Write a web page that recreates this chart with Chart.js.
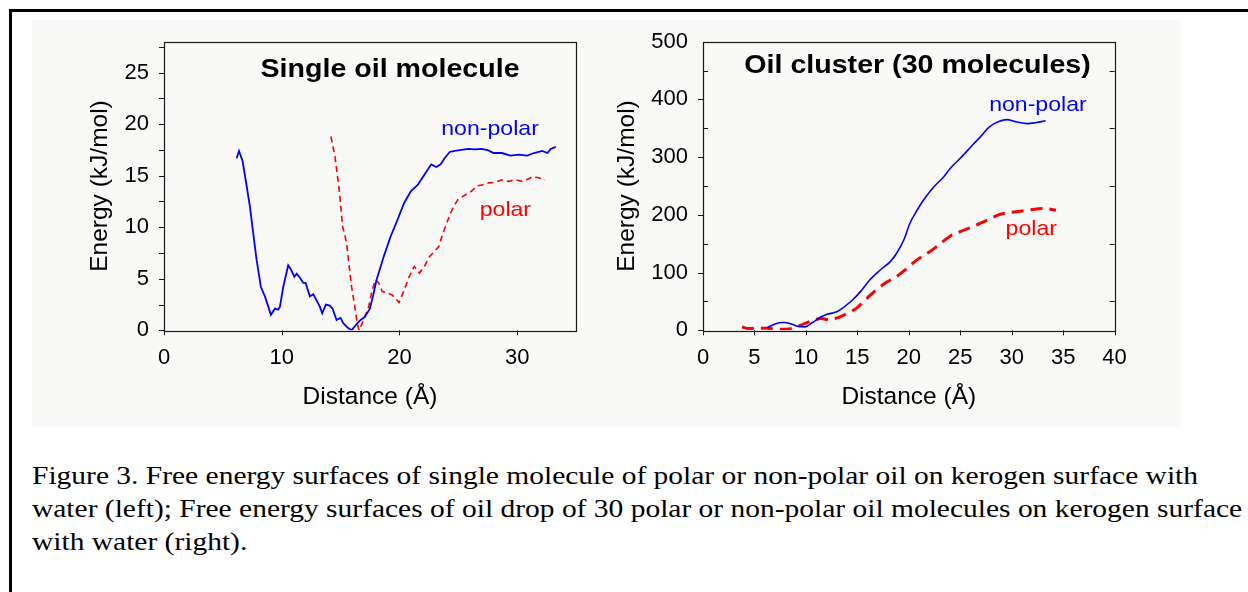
<!DOCTYPE html>
<html><head><meta charset="utf-8">
<script src="https://cdn.jsdelivr.net/npm/chart.js@4.4.0/dist/chart.umd.min.js"></script>
<style>
html,body{margin:0;padding:0;background:#fff;width:1248px;height:592px;overflow:hidden;position:relative;font-family:"Liberation Sans",Arial,sans-serif}
#frame{position:absolute;left:9px;top:9px;width:1400px;height:800px;border-left:3px solid #000;border-top:3px solid #000;}
#bg{position:absolute;left:32px;top:20px;width:1149px;height:407px;background:#f9f9f8;}
#c1{position:absolute;left:0;top:0}
#c2{position:absolute;left:600px;top:0}
#cap{position:absolute;left:32px;top:459px;font-family:"Liberation Serif","Times New Roman",serif;font-size:26px;line-height:33px;color:#000;white-space:nowrap;transform-origin:0 0}
#cap span{display:block}
</style></head><body>
<div id="frame"></div><div id="bg"></div>
<canvas id="c1" width="620" height="440"></canvas>
<canvas id="c2" width="648" height="440"></canvas>
<div id="cap"><span id="cap1" style="display:inline-block">Figure 3. Free energy surfaces of single molecule of polar or non-polar oil on kerogen surface with</span><span>water (left); Free energy surfaces of oil drop of 30 polar or non-polar oil molecules on kerogen surface</span><span>with water (right).</span></div>
<script>
// ---- Left chart: single oil molecule ----
const leftNonPolarX = [6.17,6.37,6.68,7.02,7.30,7.58,7.87,8.23,8.57,8.86,9.08,9.42,9.70,9.85,10.13,10.55,10.78,11.07,11.27,11.55,11.83,12.03,12.39,12.68,12.96,13.24,13.44,13.75,14.09,14.32,14.66,15.00,15.22,15.56,15.93,16.36,16.70,17.06,17.49,17.77,18.06,18.68,19.25,19.83,20.40,20.98,21.55,22.12,22.70,23.13,23.50,23.84,24.27,24.70,25.27,25.85,26.41,26.99,27.56,27.99,28.70,29.42,30.14,30.85,31.43,32.14,32.57,32.85,33.28];
const leftNonPolarY = [16.7,17.4,16.4,14.0,12.0,9.4,6.8,4.2,3.3,2.3,1.5,2.1,2.0,2.3,4.2,6.3,5.9,5.2,5.5,5.1,4.6,4.6,3.3,3.5,2.9,2.3,1.65,2.5,2.4,2.1,1.0,1.2,0.7,0.3,0.0,0.6,1.0,1.3,2.1,3.4,4.9,7.2,9.1,10.7,12.35,13.5,14.1,15.1,16.1,15.85,16.1,16.7,17.3,17.4,17.5,17.6,17.55,17.6,17.45,17.2,17.2,16.95,17.05,16.95,17.2,17.4,17.2,17.6,17.8];
const leftPolarX = [14.18,14.52,14.88,15.17,15.51,15.70,15.93,16.21,16.41,16.56,16.96,17.39,17.68,17.97,18.25,18.54,18.97,19.40,19.97,20.40,20.83,21.26,21.69,22.12,22.55,22.98,23.32,23.69,24.12,24.55,24.98,25.55,26.13,26.55,26.99,27.56,28.13,28.70,29.28,29.85,30.42,31.00,31.28,31.85,32.37];
const leftPolarY = [18.8,16.9,13.65,10.1,8.5,6.5,4.25,2.3,0.7,0.0,1.0,2.3,3.9,4.9,4.6,3.75,3.65,3.4,2.7,3.9,5.2,6.2,5.55,6.2,7.15,7.65,8.1,9.4,10.7,11.9,12.7,13.1,13.5,14.0,14.1,14.3,14.35,14.6,14.45,14.6,14.45,14.7,14.9,14.8,14.55];
const leftXTicks = [0,10,20,30];
const leftYTicks = [0,5,10,15,20,25];
const leftYMarks = [0,2.5,5,7.5,10,12.5,15,17.5,20,22.5,25,27.5];

// ---- Right chart: oil cluster (30 molecules) ----
const rightNonPolarX = [6.2,7.0,7.8,8.6,9.3,9.9,10.6,11.4,12.0,13.0,13.6,14.5,15.3,16.2,17.2,18.2,18.8,19.5,20.1,20.8,21.4,22.4,23.4,24.0,25.0,26.2,27.0,27.8,28.8,29.5,30.5,31.5,32.4,33.3];
const rightNonPolarY = [4,11,13.5,11,6.5,6,13,22.5,27.5,32,39,52,67,87,104,119,133,156,185,208,225,248,266,280,298,321,336,352,362,365,361,358,360,363];
const rightPolarX = [3.8,4.4,5.2,6.2,7.2,8.1,8.8,9.8,10.7,11.5,12.3,13.2,14.0,14.9,15.9,16.9,17.9,18.8,19.8,20.8,22.1,23.0,24.0,25.0,26.3,27.6,28.9,30.2,31.5,33.1,34.3];
const rightPolarY = [6,3,3.5,3.5,2,2,4,11,17,20.5,18,22.5,29,38,55,71,84,93,107,122,137,149,163,171,180,191,201,205,208,211,208];
const rightXTicks = [0,5,10,15,20,25,30,35,40];
const rightYTicks = [0,100,200,300,400,500];
const rightYMajorMarks = [0,100,200,300,400];
const rightYMinorMarks = [50,150,250,350,450];

const pts = (xs, ys) => xs.map((v, i) => ({x: v, y: ys[i]}));

const decor = {
  id: 'decor',
  afterDatasetsDraw(chart, args, o) {
    const {ctx, chartArea: a, scales: {x, y}} = chart;
    ctx.save();
    ctx.strokeStyle = '#1a1a1a';
    ctx.lineWidth = 1.2;
    ctx.strokeRect(Math.round(a.left) + 0.5, Math.round(a.top) + 0.5, Math.round(a.right - a.left), Math.round(a.bottom - a.top));
    const L = o.tickLen;
    ctx.lineWidth = 1;
    ctx.beginPath();
    const yp = v => Math.round(y.getPixelForValue(v)) + 0.5;
    const xp = v => Math.round(x.getPixelForValue(v)) + 0.5;
    (o.yOut || []).forEach(v => { const p = yp(v); ctx.moveTo(a.left - L, p); ctx.lineTo(a.left, p); });
    (o.yIn || []).forEach(v => { const p = yp(v); ctx.moveTo(a.left, p); ctx.lineTo(a.left + L, p); });
    (o.yRightIn || []).forEach(v => { const p = yp(v); ctx.moveTo(a.right - L, p); ctx.lineTo(a.right, p); });
    (o.xOut || []).forEach(v => { const p = xp(v); ctx.moveTo(p, a.bottom); ctx.lineTo(p, a.bottom + L); });
    ctx.stroke();
    (o.texts || []).forEach(t => {
      ctx.save();
      ctx.font = t.font; ctx.fillStyle = t.color;
      ctx.textAlign = 'center'; ctx.textBaseline = 'middle';
      ctx.translate(x.getPixelForValue(t.x), y.getPixelForValue(t.y));
      ctx.scale(t.sx || 1, 1);
      ctx.fillText(t.text, 0, 0);
      ctx.restore();
    });
    ctx.restore();
  }
};

function makeChart(id, cfg) {
  return new Chart(document.getElementById(id), {
    type: 'line',
    data: { datasets: cfg.datasets },
    plugins: [decor],
    options: {
      responsive: false, animation: false, devicePixelRatio: 1,
      layout: { padding: cfg.padding },
      plugins: { legend: {display: false}, tooltip: {enabled: false}, title: {display: false}, decor: cfg.decor },
      elements: { point: { radius: 0 } },
      scales: {
        x: {
          type: 'linear', position: 'bottom', min: cfg.xMin, max: cfg.xMax,
          afterBuildTicks: s => { s.ticks = cfg.xTicks.map(v => ({value: v})); },
          afterFit: s => { s.height = cfg.xHeight; },
          ticks: { color: '#000', font: {family: 'Liberation Sans', size: 22}, padding: 14, maxRotation: 0, autoSkip: false },
          grid: { display: false, drawTicks: false }, border: { display: false },
          title: { display: true, text: 'Distance (Å)', color: '#000', font: {family: 'Liberation Sans', size: 24.5}, padding: 0 }
        },
        y: {
          type: 'linear', position: 'left', min: cfg.yMin, max: cfg.yMax,
          afterBuildTicks: s => { s.ticks = cfg.yTicks.map(v => ({value: v})); },
          afterFit: s => { s.width = cfg.yWidth; },
          ticks: { color: '#000', font: {family: 'Liberation Sans', size: 22}, padding: 15, autoSkip: false },
          grid: { display: false, drawTicks: false }, border: { display: false },
          title: { display: true, text: 'Energy (kJ/mol)', color: '#000', font: {family: 'Liberation Sans', size: 24.5}, padding: 0 }
        }
      }
    }
  });
}

makeChart('c1', {
  datasets: [
    { data: pts(leftNonPolarX, leftNonPolarY), borderColor: '#0000ff', borderWidth: 1.8, tension: 0, fill: false },
    { data: pts(leftPolarX, leftPolarY), borderColor: '#ff0000', borderWidth: 1.6, borderDash: [6, 4], tension: 0, fill: false }
  ],
  padding: { left: 85.3, top: 41.7, right: 44, bottom: 27.6 },
  xMin: 0, xMax: 35, yMin: 0, yMax: 28,
  xTicks: leftXTicks, yTicks: leftYTicks,
  xHeight: 82.1, yWidth: 78.7,
  decor: {
    tickLen: 5, yOut: leftYMarks, xOut: leftXTicks,
    texts: [
      { text: 'Single oil molecule', x: 19.2, y: 25.3, font: 'bold 26px "Liberation Sans"', color: '#000', sx: 1.1 },
      { text: 'non-polar', x: 27.7, y: 19.5, font: '21px "Liberation Sans"', color: '#0000ff', sx: 1.1 },
      { text: 'polar', x: 29.0, y: 11.7, font: '21px "Liberation Sans"', color: '#ff0000', sx: 1.1 }
    ]
  }
});

makeChart('c2', {
  datasets: [
    { data: pts(rightNonPolarX, rightNonPolarY), borderColor: '#0000ff', borderWidth: 1.6, cubicInterpolationMode: 'monotone', fill: false },
    { data: pts(rightPolarX, rightPolarY), borderColor: '#ff0000', borderWidth: 3, borderDash: [12, 7], cubicInterpolationMode: 'monotone', fill: false }
  ],
  padding: { left: 12.3, top: 41.7, right: 133.4, bottom: 27.6 },
  xMin: 0, xMax: 40, yMin: 0, yMax: 500,
  xTicks: rightXTicks, yTicks: rightYTicks,
  xHeight: 82.1, yWidth: 90.7,
  decor: {
    tickLen: 5, yOut: rightYMajorMarks, yIn: rightYMinorMarks, yRightIn: rightYMinorMarks, xOut: rightXTicks,
    texts: [
      { text: 'Oil cluster (30 molecules)', x: 20.85, y: 458, font: 'bold 26px "Liberation Sans"', color: '#000', sx: 1.1 },
      { text: 'non-polar', x: 32.55, y: 390, font: '21px "Liberation Sans"', color: '#0000ff', sx: 1.1 },
      { text: 'polar', x: 31.9, y: 175.5, font: '21px "Liberation Sans"', color: '#ff0000', sx: 1.1 }
    ]
  }
});

// stretch the caption horizontally so its first line spans the same width as in the figure
const cap = document.getElementById('cap');
const w1 = document.getElementById('cap1').getBoundingClientRect().width;
cap.style.transform = 'scaleX(' + (1166 / w1) + ')';
</script>
</body></html>
